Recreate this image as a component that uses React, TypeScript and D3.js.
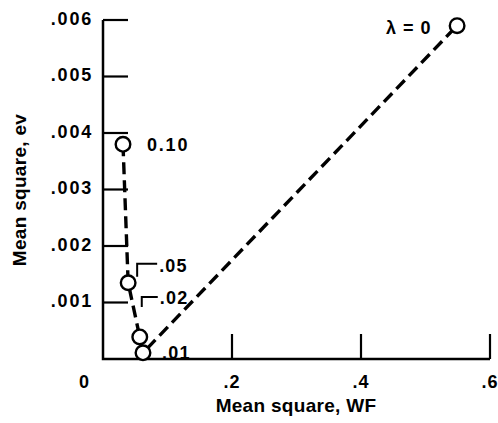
import React from 'react';
import * as d3 from 'd3';

// Mean square WF (x) vs mean square ev (y) for each lambda
const lambdaLabels = ['0.10', '.05', '.02', '.01', 'λ = 0'];
const wfValues = [0.031, 0.039, 0.057, 0.062, 0.549];
const evValues = [0.0038, 0.00135, 0.00039, 0.00011, 0.0059];

const xTicks = [0.2, 0.4, 0.6];
const xTickLabels = ['.2', '.4', '.6'];
const yTicks = [0.001, 0.002, 0.003, 0.004, 0.005, 0.006];
const yTickLabels = ['.001', '.002', '.003', '.004', '.005', '.006'];

const W = 498;
const H = 423;
const font = '"Liberation Sans", Arial, sans-serif';

export default function App() {
  const x = d3.scaleLinear().domain([0, 0.6]).range([103, 490]);
  const y = d3.scaleLinear().domain([0, 0.006]).range([359, 20]);

  const pts = wfValues.map((v, i) => ({ x: x(v), y: y(evValues[i]), label: lambdaLabels[i] }));
  const line = d3.line<{ x: number; y: number }>().x(d => d.x).y(d => d.y);

  const x0 = x(0);
  const y0 = y(0);
  const tickLen = 25;

  // label placement relative to each point
  const p10 = pts[0], p05 = pts[1], p02 = pts[2], p01 = pts[3], pL = pts[4];

  return (
    <div style={{ position: 'absolute', left: 0, top: 0 }}>
      <svg width={W} height={H} style={{ display: 'block', background: '#fff' }}>
        {/* axes */}
        <path d={`M${x0},${y(0.006)}V${y0}H${x(0.6)}`} fill="none" stroke="#000" strokeWidth={2.5} />
        {yTicks.map((t, i) => (
          <g key={'y' + i}>
            <line x1={x0} x2={x0 + tickLen} y1={y(t)} y2={y(t)} stroke="#000" strokeWidth={2.2} />
            <text x={x0 - 10} y={y(t)} dy="0.25em" textAnchor="end" fontFamily={font} fontWeight="bold"
              fontSize={18} letterSpacing={1.8}>{yTickLabels[i]}</text>
          </g>
        ))}
        {xTicks.map((t, i) => (
          <g key={'x' + i}>
            <line x1={x(t)} x2={x(t)} y1={y0} y2={y0 - tickLen} stroke="#000" strokeWidth={2.2} />
            <text x={x(t)} y={388} textAnchor="middle" fontFamily={font} fontWeight="bold"
              fontSize={18} letterSpacing={1}>{xTickLabels[i]}</text>
          </g>
        ))}
        <text x={x0 - 19} y={388} textAnchor="middle" fontFamily={font} fontWeight="bold" fontSize={18}>0</text>

        {/* axis titles */}
        <text x={296} y={412} textAnchor="middle" fontFamily={font} fontWeight="bold" fontSize={19}
          letterSpacing={0.3}>Mean square, WF</text>
        <text transform="translate(26,190) rotate(-90)" textAnchor="middle" fontFamily={font} fontWeight="bold"
          fontSize={19} letterSpacing={0.3}>Mean square, ev</text>

        {/* dashed curve */}
        <path d={line(pts) || ''} fill="none" stroke="#000" strokeWidth={3.4} strokeDasharray="12,6" />

        {/* leaders */}
        <path d={`M${p05.x + 9},${p05.y - 6}V${p05.y - 19}H${p05.x + 29}`} fill="none" stroke="#000" strokeWidth={2} />
        <path d={`M${p02.x + 2},${p02.y - 30}V${p02.y - 40}H${p02.x + 18}`} fill="none" stroke="#000" strokeWidth={2} />

        {pts.map((p, i) => (
          <circle key={i} cx={p.x} cy={p.y} r={7.3} fill="#fff" stroke="#000" strokeWidth={2.4} />
        ))}

        {/* point labels */}
        <text x={p10.x + 24} y={p10.y + 7} fontFamily={font} fontWeight="bold" fontSize={18} letterSpacing={1.8}>{p10.label}</text>
        <text x={p05.x + 31} y={p05.y - 11} fontFamily={font} fontWeight="bold" fontSize={18} letterSpacing={1.2}>{p05.label}</text>
        <text x={p02.x + 20} y={p02.y - 33} fontFamily={font} fontWeight="bold" fontSize={18} letterSpacing={1.2}>{p02.label}</text>
        <text x={p01.x + 19} y={p01.y + 6} fontFamily={font} fontWeight="bold" fontSize={18} letterSpacing={1.2}>{p01.label}</text>
        <text x={pL.x - 71} y={pL.y + 8} fontFamily={font} fontWeight="bold" fontSize={18} letterSpacing={1}>{pL.label}</text>
      </svg>
    </div>
  );
}
